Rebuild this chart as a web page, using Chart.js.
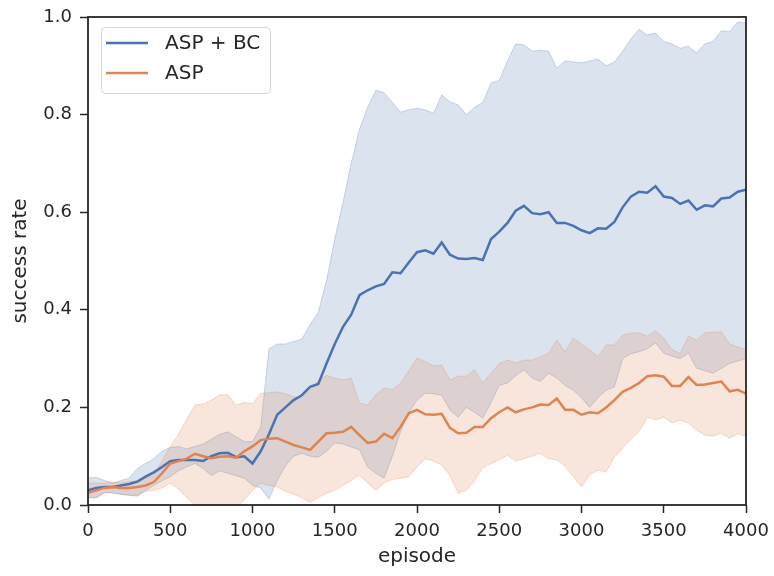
<!DOCTYPE html>
<html>
<head>
<meta charset="utf-8">
<script src="https://cdn.jsdelivr.net/npm/chart.js@4.4.1/dist/chart.umd.min.js"></script>
<style>
  html, body { margin: 0; padding: 0; background: #fff; }
  canvas { display: block; }
</style>
</head>
<body>
<canvas id="successChart" width="774" height="576"></canvas>
<script>
const episodes = [
    0, 50, 100, 150, 200, 250, 300, 350, 400, 450,
    500, 550, 600, 650, 700, 750, 800, 850, 900, 950,
    1000, 1050, 1100, 1150, 1200, 1250, 1300, 1350, 1400, 1450,
    1500, 1550, 1600, 1650, 1700, 1750, 1800, 1850, 1900, 1950,
    2000, 2050, 2100, 2150, 2200, 2250, 2300, 2350, 2400, 2450,
    2500, 2550, 2600, 2650, 2700, 2750, 2800, 2850, 2900, 2950,
    3000, 3050, 3100, 3150, 3200, 3250, 3300, 3350, 3400, 3450,
    3500, 3550, 3600, 3650, 3700, 3750, 3800, 3850, 3900, 3950,
    4000
];

// ASP + BC: mean and confidence band
const aspBcMean = [
    0.03, 0.035, 0.037, 0.037, 0.04, 0.043, 0.048, 0.058, 0.067, 0.078,
    0.09, 0.092, 0.092, 0.092, 0.09, 0.1, 0.106, 0.107, 0.098, 0.1,
    0.085, 0.11, 0.145, 0.185, 0.2, 0.215, 0.225, 0.242, 0.248, 0.29,
    0.33, 0.365, 0.39, 0.43, 0.44, 0.448, 0.453, 0.477, 0.475, 0.497,
    0.518, 0.522, 0.515, 0.538, 0.513, 0.505, 0.504, 0.506, 0.502, 0.545,
    0.56, 0.578, 0.603, 0.613, 0.598, 0.596, 0.6, 0.578, 0.578, 0.572,
    0.563, 0.557, 0.567, 0.566, 0.58, 0.61, 0.632, 0.642, 0.64, 0.653,
    0.632, 0.629, 0.617, 0.624, 0.605, 0.614, 0.612, 0.628, 0.63, 0.642,
    0.646
];
const aspBcHigh = [
    0.055, 0.057, 0.05, 0.045, 0.05, 0.055, 0.075, 0.085, 0.095, 0.11,
    0.118, 0.12, 0.115, 0.12, 0.125, 0.135, 0.145, 0.15, 0.14, 0.13,
    0.13, 0.16, 0.32, 0.33, 0.33, 0.335, 0.34, 0.37, 0.395, 0.46,
    0.545, 0.62, 0.7, 0.77, 0.815, 0.85, 0.845, 0.825, 0.805, 0.81,
    0.813, 0.81, 0.803, 0.84, 0.826, 0.82, 0.8, 0.815, 0.825, 0.865,
    0.87, 0.91, 0.945, 0.943, 0.93, 0.932, 0.93, 0.895, 0.91, 0.908,
    0.906, 0.91, 0.914, 0.9, 0.908, 0.93, 0.955, 0.975, 0.963, 0.967,
    0.95, 0.945, 0.936, 0.94, 0.926, 0.945, 0.95, 0.972, 0.97, 0.99,
    0.988
];
const aspBcLow = [
    0.015, 0.015, 0.025, 0.025, 0.022, 0.02, 0.018, 0.03, 0.04, 0.05,
    0.058, 0.07, 0.078, 0.085, 0.075, 0.06, 0.07, 0.065, 0.06, 0.055,
    0.04, 0.035, 0.012, 0.05, 0.08, 0.1, 0.106, 0.1, 0.098, 0.11,
    0.127, 0.125, 0.119, 0.113, 0.078, 0.065, 0.055, 0.1, 0.15, 0.19,
    0.215, 0.229, 0.228, 0.225, 0.195, 0.18, 0.2, 0.19, 0.178, 0.21,
    0.245, 0.25, 0.265, 0.277, 0.26, 0.253, 0.27, 0.26, 0.245, 0.235,
    0.22, 0.2, 0.22, 0.235, 0.242, 0.3, 0.31, 0.314, 0.32, 0.332,
    0.311, 0.305, 0.3, 0.311, 0.28, 0.275, 0.27, 0.28, 0.29, 0.295,
    0.3
];

// ASP: mean and confidence band
const aspMean = [
    0.025, 0.03, 0.035, 0.037, 0.035, 0.035, 0.037, 0.04, 0.047, 0.065,
    0.085, 0.09, 0.095, 0.105, 0.1, 0.096, 0.099, 0.1, 0.097, 0.11,
    0.12, 0.133, 0.136, 0.137, 0.13, 0.123, 0.118, 0.113, 0.13, 0.147,
    0.148, 0.15, 0.16, 0.143, 0.127, 0.13, 0.146, 0.137, 0.16, 0.188,
    0.195, 0.186, 0.185, 0.187, 0.158, 0.147, 0.148, 0.16, 0.16, 0.178,
    0.19, 0.2, 0.19, 0.196, 0.2, 0.206, 0.205, 0.218, 0.195, 0.195,
    0.185, 0.19, 0.188, 0.2, 0.215, 0.232, 0.24, 0.25, 0.264, 0.266,
    0.263, 0.244, 0.244, 0.262, 0.246, 0.247, 0.25, 0.253, 0.233, 0.236,
    0.228
];
const aspHigh = [
    0.045, 0.045, 0.045, 0.047, 0.045, 0.048, 0.05, 0.055, 0.06, 0.09,
    0.12, 0.145, 0.175, 0.205, 0.207, 0.215, 0.226, 0.226, 0.205, 0.21,
    0.208, 0.229, 0.23, 0.232, 0.228, 0.222, 0.219, 0.235, 0.255, 0.266,
    0.26, 0.256, 0.26, 0.209, 0.205, 0.226, 0.24, 0.236, 0.25, 0.275,
    0.301, 0.294, 0.285, 0.287, 0.256, 0.264, 0.264, 0.277, 0.25, 0.27,
    0.29, 0.297, 0.291, 0.297, 0.297, 0.304, 0.311, 0.338, 0.314, 0.342,
    0.33, 0.318, 0.304, 0.328, 0.328, 0.348, 0.352, 0.353, 0.346, 0.357,
    0.342, 0.318, 0.311, 0.346, 0.338, 0.353, 0.354, 0.355, 0.33, 0.324,
    0.318
];
const aspLow = [
    0.015, 0.015, 0.025, 0.025, 0.022, 0.02, 0.02, 0.028, 0.03, 0.035,
    0.045, 0.032, 0.015, 0.0, -0.01, -0.02, -0.015, -0.01, -0.005, 0.01,
    0.03, 0.045, 0.04, 0.037, 0.028, 0.022, 0.015, 0.005, 0.015, 0.024,
    0.03, 0.04, 0.05, 0.061, 0.045, 0.03, 0.045, 0.052, 0.055, 0.058,
    0.078, 0.095, 0.09, 0.082, 0.06, 0.024, 0.03, 0.05, 0.076, 0.085,
    0.092, 0.102, 0.09, 0.095, 0.1, 0.106, 0.095, 0.092, 0.08, 0.058,
    0.037, 0.062, 0.071, 0.068, 0.098, 0.117, 0.135, 0.15, 0.18, 0.174,
    0.18, 0.168, 0.174, 0.168, 0.153, 0.143, 0.141, 0.147, 0.137, 0.146,
    0.141
];

const BLUE = '#4c72b0';
const ORANGE = '#dd8452';
const INK = '#262626';
const FONT = "'DejaVu Sans', sans-serif";

const toPoints = values => values.map((y, i) => ({ x: episodes[i], y }));

function band(values, rgb, fillTarget, order) {
    return {
        data: toPoints(values),
        borderColor: `rgba(${rgb}, 0.26)`,
        backgroundColor: `rgba(${rgb}, 0.2)`,
        borderWidth: 1,
        pointRadius: 0,
        tension: 0,
        fill: fillTarget,
        order: order,
        isBand: true,
    };
}

function meanLine(label, values, color, order) {
    return {
        label: label,
        data: toPoints(values),
        borderColor: color,
        borderWidth: 2.5,
        pointRadius: 0,
        tension: 0,
        fill: false,
        order: order,
    };
}

// frame on all four sides plus the legend box in the upper left
const framePlugin = {
    id: 'frameAndLegend',
    afterDraw(chart) {
        const { ctx, chartArea: a } = chart;
        ctx.save();
        ctx.strokeStyle = INK;
        ctx.lineWidth = 1.8;
        ctx.strokeRect(a.left, a.top, a.right - a.left, a.bottom - a.top);

        const bx = 101, by = 27, bw = 169, bh = 66;
        ctx.beginPath();
        ctx.roundRect(bx + 0.5, by + 0.5, bw, bh, 4);
        ctx.fillStyle = 'rgba(255, 255, 255, 0.8)';
        ctx.fill();
        ctx.strokeStyle = '#d6d6d6';
        ctx.lineWidth = 1;
        ctx.stroke();

        const entries = chart.data.datasets.filter(d => !d.isBand);
        entries.forEach((d, i) => {
            const y = 43 + i * 30;
            ctx.beginPath();
            ctx.strokeStyle = d.borderColor;
            ctx.lineWidth = 2.5;
            ctx.moveTo(106, y);
            ctx.lineTo(148, y);
            ctx.stroke();
            ctx.fillStyle = INK;
            ctx.font = '20px ' + FONT;
            ctx.textBaseline = 'middle';
            ctx.textAlign = 'left';
            ctx.fillText(d.label, 165, y + 1);
        });
        ctx.restore();
    }
};

const ctx = document.getElementById('successChart').getContext('2d');

new Chart(ctx, {
    type: 'line',
    data: {
        datasets: [
            meanLine('ASP + BC', aspBcMean, BLUE, 1),
            meanLine('ASP', aspMean, ORANGE, 0),
            band(aspBcHigh, '76, 114, 176', '+1', 3),
            band(aspBcLow, '76, 114, 176', false, 3),
            band(aspHigh, '221, 132, 82', '+1', 2),
            band(aspLow, '221, 132, 82', false, 2),
        ],
    },
    options: {
        responsive: false,
        animation: false,
        devicePixelRatio: 1,
        layout: { padding: { top: 17, right: 28, left: 0, bottom: 0 } },
        plugins: {
            legend: { display: false },
            tooltip: { enabled: false },
        },
        scales: {
            x: {
                type: 'linear',
                min: 0,
                max: 4000,
                afterFit: scale => {
                    scale.height = 71;
                    // keep the end labels from pushing the plot edges inward
                    scale.paddingLeft = 0;
                    scale.paddingRight = 0;
                },
                ticks: {
                    stepSize: 500,
                    padding: 8,
                    color: INK,
                    font: { family: FONT, size: 18 },
                    callback: v => String(v),
                },
                grid: {
                    drawOnChartArea: false,
                    tickLength: 8,
                    tickWidth: 1.5,
                    tickColor: INK,
                },
                border: { display: false },
                title: {
                    display: true,
                    text: 'episode',
                    color: INK,
                    font: { family: FONT, size: 20 },
                    padding: { top: 0, bottom: 7 },
                },
            },
            y: {
                min: 0,
                max: 1,
                afterFit: scale => {
                    scale.width = 88;
                    scale.paddingTop = 0;
                    scale.paddingBottom = 0;
                },
                ticks: {
                    stepSize: 0.2,
                    padding: 8,
                    color: INK,
                    font: { family: FONT, size: 18 },
                    callback: v => v.toFixed(1),
                },
                grid: {
                    drawOnChartArea: false,
                    tickLength: 8,
                    tickWidth: 1.5,
                    tickColor: INK,
                },
                border: { display: false },
                title: {
                    display: true,
                    text: 'success rate',
                    color: INK,
                    font: { family: FONT, size: 20 },
                    padding: { top: 9, bottom: 0 },
                },
            },
        },
    },
    plugins: [framePlugin],
});
</script>
</body>
</html>
